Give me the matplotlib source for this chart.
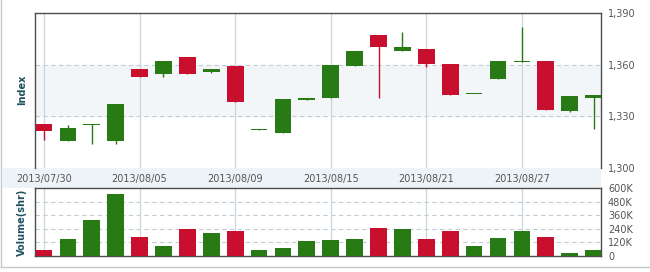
import numpy as np
import matplotlib
matplotlib.use("Agg")
import matplotlib.pyplot as plt
from matplotlib.lines import Line2D
from matplotlib.patches import Rectangle

# daily candles, 2013/07/30 .. 2013/08/30
dates = ["2013/07/30", "2013/07/31", "2013/08/01", "2013/08/02",
         "2013/08/05", "2013/08/06", "2013/08/07", "2013/08/08", "2013/08/09",
         "2013/08/12", "2013/08/13", "2013/08/14", "2013/08/15",
         "2013/08/16", "2013/08/19", "2013/08/20", "2013/08/21",
         "2013/08/22", "2013/08/23", "2013/08/26", "2013/08/27",
         "2013/08/28", "2013/08/29", "2013/08/30"]
opens  = [1325.5, 1315.8, 1325.0, 1315.8, 1357.3, 1354.6, 1364.5, 1356.0, 1359.3,
          1322.2, 1320.4, 1339.5, 1340.8, 1359.5, 1377.4, 1368.2, 1369.2, 1360.5,
          1342.8, 1351.9, 1361.6, 1362.2, 1333.2, 1340.8]
highs  = [1325.5, 1325.1, 1325.3, 1337.1, 1357.3, 1362.2, 1364.5, 1357.3, 1359.3,
          1322.5, 1339.9, 1340.8, 1359.9, 1368.0, 1377.4, 1378.7, 1369.2, 1360.5,
          1343.0, 1362.2, 1381.8, 1362.2, 1341.8, 1342.2]
lows   = [1316.5, 1315.5, 1314.2, 1314.2, 1353.1, 1353.1, 1354.8, 1355.0, 1338.3,
          1322.2, 1320.4, 1339.5, 1340.5, 1359.5, 1340.8, 1368.2, 1358.9, 1342.6,
          1342.8, 1351.9, 1361.6, 1333.8, 1332.5, 1322.7]
closes = [1321.6, 1323.1, 1325.3, 1337.1, 1353.1, 1362.2, 1354.8, 1357.3, 1338.3,
          1322.5, 1339.9, 1340.8, 1359.9, 1368.0, 1370.0, 1370.4, 1360.3, 1342.6,
          1343.0, 1362.2, 1361.8, 1333.8, 1341.8, 1342.2]
volumes = [50, 148, 318, 549, 166, 86, 238, 202, 220, 50, 68, 131, 140, 148,
           246, 238, 148, 220, 86, 157, 220, 166, 24, 50]   # thousands of shares

date_ticks = [0, 4, 8, 12, 16, 20]
price_ticks = [1300, 1330, 1360, 1390]
vol_ticks = [0, 120, 240, 360, 480, 600]

RED = "#c8102e"
GREEN = "#287a14"
SPINE = "#4d4d4d"
GRID = "#c9d6de"
TXT = "#555555"

W, H = 650, 272
fig = plt.figure(figsize=(6.5, 2.72), dpi=100)
fig.patch.set_facecolor("white")

def fx(px):
    return px / W

def fy(py):
    return 1 - py / H

# light strip behind date labels + outer frame lines
fig.patches.append(Rectangle((fx(3), fy(188)), fx(598), 20 / H, transform=fig.transFigure,
                             facecolor="#eef3f7", edgecolor="none", zorder=-5))
fig.lines.append(Line2D([fx(1), fx(1)], [fy(0), fy(267)], transform=fig.transFigure, color="#c4c8cc", lw=1, zorder=-5))
fig.lines.append(Line2D([fx(1), 1], [fy(267), fy(267)], transform=fig.transFigure, color="#c4c8cc", lw=1, zorder=-5))

ax = fig.add_axes([fx(35), fy(168), fx(566), 155 / H])
axv = fig.add_axes([fx(35), fy(256), fx(566), 68 / H])

x = np.arange(len(dates))
xlim = (-0.377, 23.31)
width = 0.7

# price panel
ax.axhspan(1330, 1360, color="#f3f6f9", zorder=0)
for v in [1330, 1360]:
    ax.axhline(v, color="#c3ccd4", lw=0.8, ls=(0, (4, 3)), zorder=1)
for i in date_ticks:
    ax.axvline(i, color=GRID, lw=0.9, zorder=1)

for i in range(len(dates)):
    o, h, l, c = opens[i], highs[i], lows[i], closes[i]
    col = GREEN if c >= o else RED
    ax.vlines(i, l, h, color=col, lw=1, zorder=3)
    body = max(abs(c - o), 0.5)
    ax.bar(i, body, width, bottom=min(o, c), color=col, zorder=4)

ax.set_xlim(*xlim)
ax.set_ylim(1300, 1390)
ax.set_yticks(price_ticks)
ax.set_yticklabels(["{:,}".format(p) for p in price_ticks])
ax.yaxis.tick_right()
ax.set_xticks(date_ticks)
ax.set_xticklabels([dates[i] for i in date_ticks])
ax.tick_params(axis="both", length=0, labelsize=7, labelcolor=TXT)
ax.tick_params(axis="x", pad=4)
ax.tick_params(axis="y", pad=5)
for s in ["left", "top", "right"]:
    ax.spines[s].set_color(SPINE)
    ax.spines[s].set_linewidth(1)
ax.spines["bottom"].set_visible(False)
ax.set_facecolor("white")

# volume panel
for v in vol_ticks[1:-1]:
    axv.axhline(v, color="#c3ccd4", lw=0.8, ls=(0, (4, 3)), zorder=1)
for i in date_ticks:
    axv.axvline(i, color=GRID, lw=0.9, zorder=1)
vcols = [GREEN if closes[i] >= opens[i] else RED for i in range(len(dates))]
axv.bar(x, volumes, width, color=vcols, zorder=3)
axv.set_xlim(*xlim)
axv.set_ylim(0, 600)
axv.set_yticks(vol_ticks)
axv.set_yticklabels(["0" if v == 0 else "{}K".format(v) for v in vol_ticks])
axv.yaxis.tick_right()
axv.set_xticks([])
axv.tick_params(axis="y", length=0, labelsize=7, labelcolor=TXT, pad=5)
for s in axv.spines.values():
    s.set_color(SPINE)
    s.set_linewidth(1)

fig.text(fx(22), fy(90), "Index", rotation=90, ha="center", va="center",
         fontsize=7, fontweight="bold", color="#1f5060")
fig.text(fx(22), fy(222), "Volume(shr)", rotation=90, ha="center", va="center",
         fontsize=7, fontweight="bold", color="#1f5060")

fig.savefig("out.png", dpi=100)
